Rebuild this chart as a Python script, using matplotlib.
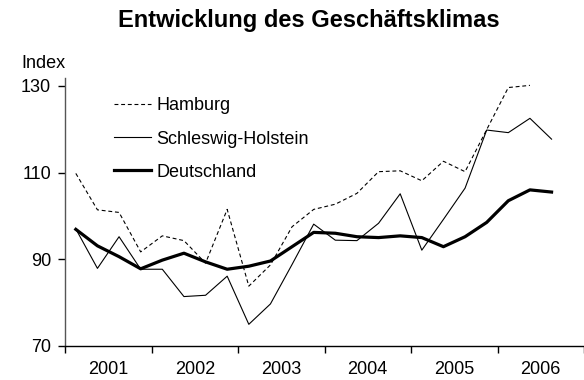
import numpy as np
import matplotlib
matplotlib.use('Agg')
import matplotlib.pyplot as plt
from matplotlib.ticker import FixedLocator, NullFormatter

plt.rcParams['font.family'] = ['Liberation Sans', 'DejaVu Sans']

# Quarterly index values, starting 2001 Q1
hamburg = [109.8, 101.4, 100.8, 91.7, 95.4, 94.3, 89.1, 101.5, 83.8, 88.7, 97.5,
           101.5, 102.7, 105.2, 110.2, 110.4, 108.1, 112.6, 110.2, 119.9, 129.6, 130.1]
schleswig_holstein = [97.0, 87.9, 95.2, 87.7, 87.7, 81.4, 81.7, 86.1, 75.0, 79.7, 88.8,
                      98.1, 94.4, 94.3, 98.3, 105.1, 92.1, 99.2, 106.4, 119.8, 119.2, 122.5, 117.7]
deutschland = [96.9, 93.1, 90.6, 87.8, 89.8, 91.4, 89.4, 87.7, 88.4, 89.6, 92.9,
               96.2, 96.0, 95.2, 95.0, 95.4, 95.0, 92.9, 95.2, 98.5, 103.5, 106.0, 105.5]
years = [2001, 2002, 2003, 2004, 2005, 2006]


def quarter_pos(values):
    # centre of each quarter on a year axis
    return 2001 + (np.arange(len(values)) + 0.5) / 4


fig = plt.figure(figsize=(5.84, 3.80), dpi=100)
ax = fig.add_axes([65 / 584, 34 / 380, 519 / 584, 268 / 380])

ax.plot(quarter_pos(hamburg), hamburg, color='black', lw=0.8, ls=(0, (3.5, 2.5)), label='Hamburg')
ax.plot(quarter_pos(schleswig_holstein), schleswig_holstein, color='black', lw=0.8, label='Schleswig-Holstein')
ax.plot(quarter_pos(deutschland), deutschland, color='black', lw=2.3, label='Deutschland')

ax.set_xlim(2001, 2007)
ax.set_ylim(70, 131.8)
ax.set_yticks([70, 90, 110, 130])
ax.xaxis.set_major_locator(FixedLocator(years + [2007]))
ax.xaxis.set_major_formatter(NullFormatter())
ax.xaxis.set_minor_locator(FixedLocator([y + 0.5 for y in years]))
ax.set_xticklabels([str(y) for y in years], minor=True)
ax.tick_params(axis='x', which='minor', length=0, pad=11, labelsize=13)
ax.tick_params(axis='x', which='major', length=5, width=1, direction='out')
ax.tick_params(axis='y', length=5, width=1, direction='out', labelsize=13, pad=5)

for side in ['top', 'right']:
    ax.spines[side].set_visible(False)
ax.spines['left'].set_color('#555555')
ax.spines['left'].set_linewidth(1)
ax.spines['bottom'].set_linewidth(1)

fig.text(21 / 584, 1 - 63 / 380, 'Index', fontsize=13, va='center', ha='left')
fig.text(0.528, 1 - 21 / 380, 'Entwicklung des Geschäftsklimas', fontsize=17,
         fontweight='bold', ha='center', va='center')

ax.legend(loc='upper left', bbox_to_anchor=(0.081, 0.955), frameon=False, fontsize=13,
          handlelength=2.05, handletextpad=0.28, labelspacing=0.9, borderaxespad=0)

fig.savefig('out.png', dpi=100)
